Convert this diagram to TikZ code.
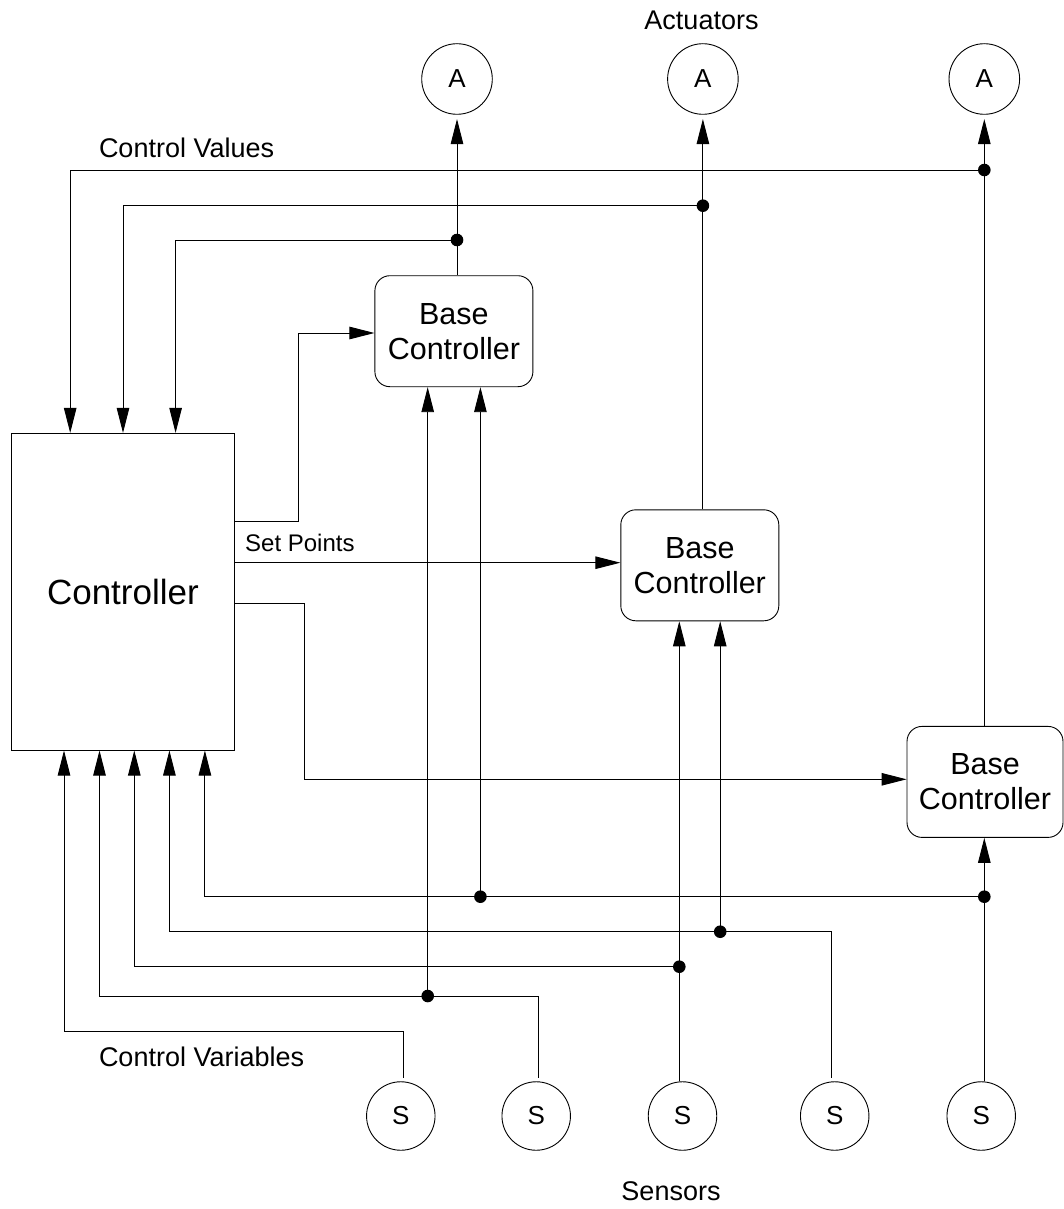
\documentclass[tikz,border=0pt]{standalone}
\usepackage{fontspec}
\setmainfont{Liberation Sans}
\usetikzlibrary{arrows.meta}

\begin{document}
\begin{tikzpicture}[x=1pt,y=-1pt,
  wire/.style={line width=0.9pt, draw=black},
  arr/.style={wire, -{Triangle[length=25pt,width=12.5pt]}},
  basebox/.style={draw, line width=0.9pt, rounded corners=15pt, align=center,
    inner sep=0pt, minimum width=158pt, minimum height=111pt,
    font=\fontsize{30.5}{35}\selectfont},
  mainbox/.style={draw, line width=0.9pt, inner sep=0pt,
    minimum width=222.7pt, minimum height=316.7pt,
    font=\fontsize{35}{40}\selectfont},
  actuator/.style={draw, line width=0.9pt, circle, inner sep=0pt,
    minimum size=70.6pt, font=\fontsize{26}{30}\selectfont},
  sensor/.style={draw, line width=0.9pt, circle, inner sep=0pt,
    minimum size=68.5pt, font=\fontsize{26}{30}\selectfont},
  caption/.style={inner sep=0pt, font=\fontsize{27}{32}\selectfont},
  junction/.style={fill=black}
]
\useasboundingbox (0,0) rectangle (1064,1209);

% ---- blocks ----
\node[mainbox]  (ctrl) at (122.9,591.7) {Controller};
\node[basebox]  (bc1)  at (453.9,331.2) {Base\\Controller};
\node[basebox]  (bc2)  at (699.8,565.3) {Base\\Controller};
\node[basebox, minimum width=156pt] (bc3) at (985,781.9) {Base\\Controller};

% ---- actuators ----
\node[actuator] (a1) at (457,79)   {A};
\node[actuator] (a2) at (702.9,79) {A};
\node[actuator] (a3) at (984.3,79) {A};

% ---- sensors ----
\node[sensor] (s1) at (400.8,1116) {S};
\node[sensor] (s2) at (536.2,1116) {S};
\node[sensor] (s3) at (682.5,1116) {S};
\node[sensor] (s4) at (834.7,1116) {S};
\node[sensor] (s5) at (981.2,1116) {S};

% ---- captions ----
\node[caption, anchor=base] (lact) at (701.5,29.3) {Actuators};
\node[caption, anchor=base west] (lcval) at (98.8,158) {Control Values};
\node[caption, anchor=base west, font=\fontsize{24}{28}\selectfont] (lsp) at (245,551.7) {Set Points};
\node[caption, anchor=base west] (lcvar) at (98.8,1066.7) {Control Variables};
\node[caption, anchor=base] (lsen) at (671,1200) {Sensors};

% ---- junction points ----
\coordinate (j1) at (457,240);
\coordinate (j2) at (702.9,205.7);
\coordinate (j3) at (984.3,170);
\coordinate (k1) at (427.7,996);
\coordinate (k2) at (679.3,966.7);
\coordinate (k3) at (720.2,931.7);
\coordinate (k4) at (984.3,896.7);
\coordinate (k5) at (480.4,896.7);

% ---- base controllers to actuators ----
\draw[arr, shorten >=4.3pt] (bc1.north -| a1) -- (a1.south);
\draw[arr, shorten >=4.3pt] (bc2.north -| a2) -- (a2.south);
\draw[arr, shorten >=4.3pt] (bc3.north -| a3) -- (a3.south);

% ---- control values fed back to the controller ----
\draw[arr] (j3) -| (ctrl.north -| 70.2,0);
\draw[arr] (j2) -| (ctrl.north -| 123,0);
\draw[arr] (j1) -| (ctrl.north -| 175.6,0);

% ---- set points ----
\draw[arr] (ctrl.east |- 0,521) -- (298.2,521) |- (bc1.west |- 0,333);
\draw[arr] (ctrl.east |- 0,562.7) -- (bc2.west |- 0,562.7);
\draw[arr] (ctrl.east |- 0,603.3) -- (304.4,603.3) |- (bc3.west |- 0,779.3);

% ---- sensor signals ----
\draw[arr, shorten <=3.7pt] (s1.north -| 403.4,0) |- (64,1031.7) -- (ctrl.south -| 64,0);
\draw[arr, shorten <=3.7pt] (s2.north -| 538.4,0) |- (99.5,996) -- (ctrl.south -| 99.5,0);
\draw[arr] (k1) -- (bc1.south -| k1);
\draw[arr] (s3.north -| 679.3,0) -- (bc2.south -| 679.3,0);
\draw[arr] (k2) -| (ctrl.south -| 134.3,0);
\draw[arr, shorten <=3.7pt] (s4.north -| 831.2,0) |- (169.4,931.7) -- (ctrl.south -| 169.4,0);
\draw[arr] (k3) -- (bc2.south -| k3);
\draw[arr] (s5.north -| 984.3,0) -- (bc3.south -| 984.3,0);
\draw[arr] (k4) -| (ctrl.south -| 204.9,0);
\draw[arr] (k5) -- (bc1.south -| k5);

% ---- junction dots ----
\foreach \j in {j1,j2,j3,k1,k2,k3,k4,k5}
  \fill[junction] (\j) circle (6.3pt);

\end{tikzpicture}
\end{document}
